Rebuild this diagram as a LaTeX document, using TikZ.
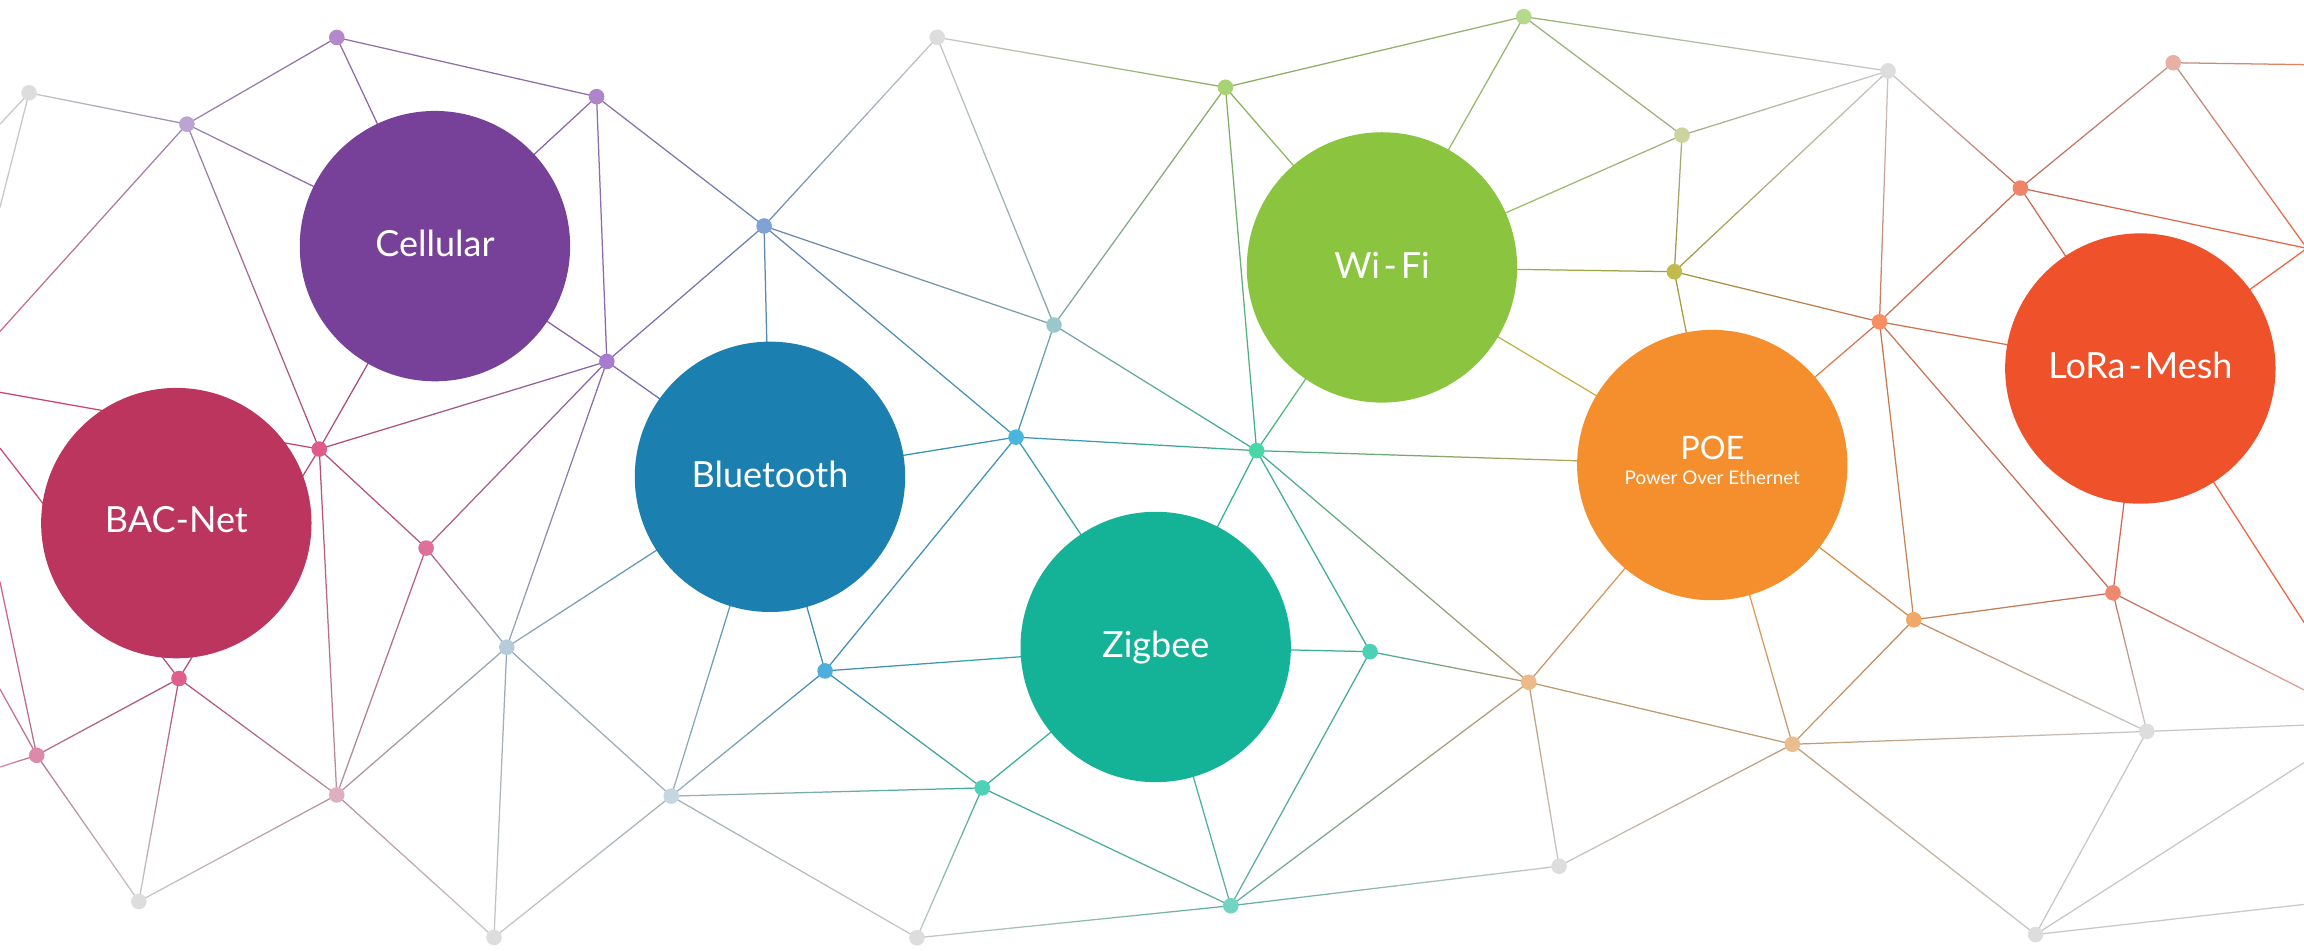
\documentclass[tikz,border=0pt]{standalone}
\usepackage{fontspec}
\newfontfamily\lblfont{Lato}
\usetikzlibrary{calc}
\pgfdeclarelayer{bgfill}
\pgfdeclarelayer{edges}
\pgfsetlayers{bgfill,edges,main}

\newcommand\dotcol[2]{\definecolor{dot#1}{HTML}{#2}\colorlet{edg#1}{dot#1!82!black}}
\newcommand\graycol[1]{\definecolor{dot#1}{HTML}{DDDDDD}\colorlet{edg#1}{dot#1!90!black}}
\newcommand\bigcol[2]{\definecolor{dot#1}{HTML}{#2}\colorlet{edg#1}{dot#1!92!white}}
\newcommand\offcol[2]{\definecolor{edg#1}{HTML}{#2}}

% circles
\bigcol{cel}{774199}
\bigcol{bac}{BC355E}
\bigcol{blu}{1B7FB0}
\bigcol{zig}{14B297}
\bigcol{wif}{8BC53F}
\bigcol{poe}{F58F2D}
\bigcol{lor}{EF522B}
% dots
\graycol{a}
\dotcol{b}{BBA3D4}
\dotcol{c}{B388CC}
\dotcol{d}{AE84CC}
\dotcol{e}{7FA3D6}
\dotcol{f}{A77BCF}
\dotcol{g}{E05C88}
\dotcol{h}{DE709A}
\dotcol{i}{DD5F8A}
\dotcol{j}{DD8AA8}
\dotcol{k}{DDAFC0}
\graycol{l}
\dotcol{m}{B5CCDC}
\dotcol{n}{C4D6E0}
\graycol{o}
\dotcol{p}{4DADDC}
\dotcol{q}{4BB6DD}
\dotcol{r}{99C8CC}
\graycol{s}
\dotcol{t}{A8D374}
\dotcol{u}{B6DA8C}
\dotcol{v}{48D8A8}
\dotcol{w}{4DD1B5}
\dotcol{x}{4DD1B8}
\graycol{y}
\dotcol{z}{74D4C4}
\dotcol{ra}{EBBA88}
\graycol{rb}
\dotcol{rc}{CDD39E}
\dotcol{rd}{C3BA4C}
\graycol{re}
\dotcol{rf}{F08468}
\dotcol{rg}{E8B0A4}
\dotcol{rh}{F78E64}
\dotcol{ri}{F0A76A}
\dotcol{rj}{F0886E}
\dotcol{rk}{EBBC8C}
\graycol{rl}
\graycol{rm}
% off-picture ends
\offcol{ola}{C8C8C8}
\offcol{olb}{C8C8C8}
\offcol{olc}{D06890}
\offcol{old}{D04070}
\offcol{ole}{D04878}
\offcol{olf}{D06088}
\offcol{olg}{D07090}
\offcol{olh}{D890A8}
\offcol{ora}{E88060}
\offcol{orb}{EE6440}
\offcol{orc}{EE6440}
\offcol{ord}{E0A098}
\offcol{ore}{C8C8C8}
\offcol{orf}{C8C8C8}
\offcol{org}{C8C8C8}

\newcommand\link[2]{%
  \foreach \k in {0,...,9}{%
    \pgfmathtruncatemacro\pc{95-10*\k}%
    \pgfmathsetmacro\ta{\k/10}%
    \pgfmathsetmacro\tb{(\k+1)/10}%
    \draw[edgeline, draw=edg#1!\pc!edg#2] ($(#1)!\ta!(#2)$) -- ($(#1)!\tb!(#2)$);%
  }%
}

\begin{document}
\begin{tikzpicture}[x=1pt,y=-1pt,
  dotnode/.style={circle, inner sep=0pt, minimum size=10.6pt, draw=none},
  bignode/.style={circle, inner sep=0pt, minimum size=184pt, draw=none},
  lbl/.style={text=white, anchor=base, inner sep=0pt, font=\lblfont\fontsize{24.5}{28}\selectfont},
  sublbl/.style={text=white, anchor=base, inner sep=0pt, font=\lblfont\fontsize{12.8}{15}\selectfont},
  edgeline/.style={line width=0.85pt, line cap=round}]
\useasboundingbox (0,0) rectangle (1568,647);
\begin{pgfonlayer}{bgfill}
\fill[white] (0,0) rectangle (1568,647);
\end{pgfonlayer}

% big circles
\node[bignode, fill=dotcel] (cel) at (296,167.5) {};
\node[bignode, fill=dotbac] (bac) at (120,356) {};
\node[bignode, fill=dotblu] (blu) at (524,324.5) {};
\node[bignode, fill=dotzig] (zig) at (786.5,440.3) {};
\node[bignode, fill=dotwif] (wif) at (940.5,182) {};
\node[bignode, fill=dotpoe] (poe) at (1165.3,316.5) {};
\node[bignode, fill=dotlor] (lor) at (1456.6,250.8) {};

\node[lbl] (tcel) at ($(cel)+(0,7.3)$) {Cellular};
\node[lbl] (tbac) at ($(bac)+(0,6.5)$) {BAC-Net};
\node[lbl] (tblu) at ($(blu)+(0,7.3)$) {Bluetooth};
\node[lbl] (tzig) at ($(zig)+(0,7.5)$) {Zigbee};
\node[lbl] (twif) at ($(wif)+(0,7.2)$) {Wi\kern2.5pt-\kern2.5pt Fi};
\node[lbl] (tlor) at ($(lor)+(0,6.8)$) {LoRa\kern2pt-\kern2pt Mesh};
\node[lbl, font=\lblfont\fontsize{22}{26}\selectfont] (tpoe) at ($(poe)+(0,-3.6)$) {POE};
\node[sublbl] (tpoe2) at ($(poe)+(0,12.9)$) {Power Over Ethernet};

% small dots
\node[dotnode, fill=dota] (a) at (19.8,63.2) {};
\node[dotnode, fill=dotb] (b) at (127.2,84.5) {};
\node[dotnode, fill=dotc] (c) at (229.2,25.5) {};
\node[dotnode, fill=dotd] (d) at (406,65.8) {};
\node[dotnode, fill=dote] (e) at (520,153.8) {};
\node[dotnode, fill=dotf] (f) at (413,246) {};
\node[dotnode, fill=dotg] (g) at (217.3,305.6) {};
\node[dotnode, fill=doth] (h) at (290,373) {};
\node[dotnode, fill=doti] (i) at (121.8,461.8) {};
\node[dotnode, fill=dotj] (j) at (25,514) {};
\node[dotnode, fill=dotk] (k) at (229.2,541) {};
\node[dotnode, fill=dotl] (l) at (94.5,613.5) {};
\node[dotnode, fill=dotm] (m) at (344.9,440.5) {};
\node[dotnode, fill=dotn] (n) at (456.8,541.8) {};
\node[dotnode, fill=doto] (o) at (336.2,638) {};
\node[dotnode, fill=dotp] (p) at (561.5,456.6) {};
\node[dotnode, fill=dotq] (q) at (691.5,297.5) {};
\node[dotnode, fill=dotr] (r) at (717.3,221.2) {};
\node[dotnode, fill=dots] (s) at (637.8,25.4) {};
\node[dotnode, fill=dott] (t) at (834,59.4) {};
\node[dotnode, fill=dotu] (u) at (1037,11.3) {};
\node[dotnode, fill=dotv] (v) at (855.2,306.7) {};
\node[dotnode, fill=dotw] (w) at (932.4,443.5) {};
\node[dotnode, fill=dotx] (x) at (668.5,536.2) {};
\node[dotnode, fill=doty] (y) at (624,638.2) {};
\node[dotnode, fill=dotz] (z) at (837.6,616.4) {};
\node[dotnode, fill=dotra] (ra) at (1040.4,464.3) {};
\node[dotnode, fill=dotrb] (rb) at (1061,589.5) {};
\node[dotnode, fill=dotrc] (rc) at (1144.7,92) {};
\node[dotnode, fill=dotrd] (rd) at (1139.5,184.9) {};
\node[dotnode, fill=dotre] (re) at (1284.9,48.3) {};
\node[dotnode, fill=dotrf] (rf) at (1375,128) {};
\node[dotnode, fill=dotrg] (rg) at (1479,42.7) {};
\node[dotnode, fill=dotrh] (rh) at (1279.1,219) {};
\node[dotnode, fill=dotri] (ri) at (1302.4,421.8) {};
\node[dotnode, fill=dotrj] (rj) at (1438,403.5) {};
\node[dotnode, fill=dotrk] (rk) at (1219.8,506.5) {};
\node[dotnode, fill=dotrl] (rl) at (1461,497.8) {};
\node[dotnode, fill=dotrm] (rm) at (1385.3,636) {};

% off-picture ends
\coordinate (ola) at (0,84.5);
\coordinate (olb) at (0,141);
\coordinate (olc) at (0,225.5);
\coordinate (old) at (0,267);
\coordinate (ole) at (0,305);
\coordinate (olf) at (0,396);
\coordinate (olg) at (0,469);
\coordinate (olh) at (0,522);
\coordinate (ora) at (1568,44);
\coordinate (orb) at (1570,169);
\coordinate (orc) at (1568,423.6);
\coordinate (ord) at (1568,469.5);
\coordinate (ore) at (1568,493.5);
\coordinate (orf) at (1568,519);
\coordinate (org) at (1568,615.5);

\begin{pgfonlayer}{edges}
% left part
\link{a}{ola}\link{a}{olb}\link{a}{b}\link{b}{c}\link{b}{olc}\link{b}{cel}\link{b}{g}
\link{c}{d}\link{c}{cel}\link{d}{cel}\link{d}{f}\link{d}{e}\link{cel}{f}\link{cel}{g}
\link{f}{e}\link{f}{g}\link{f}{blu}\link{f}{h}\link{f}{m}
\link{g}{old}\link{g}{i}\link{g}{h}\link{g}{k}
\link{i}{ole}\link{i}{j}\link{i}{l}\link{i}{k}
\link{j}{olf}\link{j}{olg}\link{j}{olh}\link{j}{l}\link{l}{k}
\link{k}{h}\link{k}{m}\link{k}{o}\link{h}{m}\link{m}{blu}\link{m}{o}\link{m}{n}
\link{n}{blu}\link{n}{p}\link{n}{x}\link{n}{o}\link{n}{y}
% centre
\link{e}{s}\link{e}{r}\link{e}{q}\link{e}{blu}\link{s}{r}\link{s}{t}\link{t}{r}
\link{t}{v}\link{t}{wif}\link{t}{u}\link{u}{wif}\link{r}{q}\link{r}{v}
\link{q}{blu}\link{q}{v}\link{q}{p}\link{q}{zig}\link{p}{blu}\link{p}{zig}\link{p}{x}
\link{x}{zig}\link{x}{y}\link{x}{z}\link{zig}{z}\link{zig}{v}\link{zig}{w}
\link{v}{wif}\link{v}{w}\link{v}{ra}\link{v}{poe}\link{w}{ra}\link{w}{z}
\link{z}{y}\link{z}{ra}\link{z}{rb}\link{ra}{poe}\link{ra}{rk}\link{ra}{rb}
% right part
\link{u}{rc}\link{u}{re}\link{rc}{re}\link{rc}{rd}\link{rc}{wif}\link{rd}{re}
\link{rd}{wif}\link{rd}{rh}\link{rd}{poe}\link{wif}{poe}\link{re}{rh}\link{re}{rf}
\link{rg}{rf}\link{rg}{ora}\link{rg}{orb}\link{rf}{orb}\link{rf}{lor}\link{rf}{rh}
\link{lor}{orb}\link{rh}{lor}\link{rh}{poe}\link{rh}{ri}\link{rh}{rj}
\link{lor}{rj}\link{lor}{orc}\link{rj}{ri}\link{rj}{rl}\link{rj}{ord}
\link{ri}{poe}\link{ri}{rk}\link{ri}{rl}\link{rk}{poe}\link{rk}{rb}\link{rk}{rl}\link{rk}{rm}
\link{rl}{ore}\link{rl}{rm}\link{rm}{orf}\link{rm}{org}
\end{pgfonlayer}
\end{tikzpicture}
\end{document}
